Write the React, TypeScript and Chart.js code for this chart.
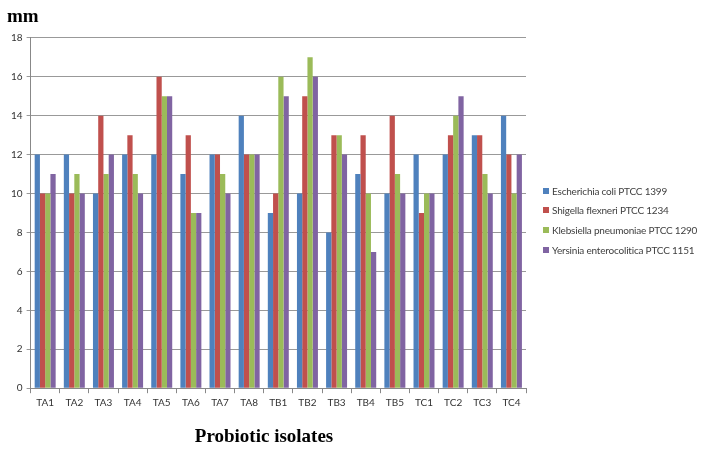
import React, { useEffect, useRef } from "react";
import { Chart, registerables } from "chart.js";

Chart.register(...registerables);

const categories = ["TA1","TA2","TA3","TA4","TA5","TA6","TA7","TA8","TB1","TB2","TB3","TB4","TB5","TC1","TC2","TC3","TC4"];
const seriesNames = [
  "Escherichia coli PTCC 1399",
  "Shigella flexneri PTCC 1234",
  "Klebsiella pneumoniae PTCC 1290",
  "Yersinia enterocolitica PTCC 1151",
];
const ecoli = [12,12,10,12,12,11,12,14,9,10,8,11,10,12,12,13,14];
const shigella = [10,10,14,13,16,13,12,12,10,15,13,13,14,9,13,13,12];
const klebsiella = [10,11,11,11,15,9,11,12,16,17,13,10,11,10,14,11,10];
const yersinia = [11,10,12,10,15,9,10,12,15,16,12,7,10,10,15,10,12];
const colors = ["#4F81BD", "#C0504D", "#9BBB59", "#8064A2"];
const yTicks = { min: 0, max: 18, step: 2 };

export default function App() {
  const ref = useRef<HTMLCanvasElement>(null);
  useEffect(() => {
    const values = [ecoli, shigella, klebsiella, yersinia];
    const chart = new Chart(ref.current!, {
      type: "bar",
      data: {
        labels: categories,
        datasets: values.map((v, i) => ({
          label: seriesNames[i],
          data: v,
          backgroundColor: colors[i],
          borderWidth: 0,
          barPercentage: 1,
          categoryPercentage: 0.72,
        })),
      },
      options: {
        animation: false,
        responsive: false,
        maintainAspectRatio: false,
        layout: { padding: { left: 7, right: 176, top: 6, bottom: 1 } },
        plugins: {
          tooltip: { enabled: false },
          title: {
            display: true,
            text: "mm",
            align: "start",
            color: "#000",
            font: { family: "Liberation Serif", size: 19, weight: "bold" },
            padding: { top: 0, bottom: 9 },
          },
          legend: { display: false },
        },
        scales: {
          x: {
            grid: { drawOnChartArea: false, drawTicks: true, tickLength: 5, color: "#888" },
            border: { color: "#888" },
            ticks: { color: "#333", font: { family: "Lato", size: 10 }, padding: 4, maxRotation: 0 },
            title: {
              display: true,
              text: "Probiotic isolates      ",
              color: "#000",
              font: { family: "Liberation Serif", size: 19, weight: "bold" },
              padding: { top: 12, bottom: 0 },
            },
          },
          y: {
            min: yTicks.min,
            max: yTicks.max,
            ticks: { stepSize: yTicks.step, color: "#333", font: { family: "Lato", size: 10 }, padding: 4 },
            grid: { color: "#999", tickLength: 4 },
            border: { color: "#888" },
          },
        },
      },
    });
    return () => chart.destroy();
  }, []);
  return (
    <div style={{ position: "fixed", left: 0, top: 0, width: 702, height: 449, background: "#fff" }}>
      <canvas ref={ref} width={702} height={449} />
      <div style={{ position: "absolute", left: 543, top: 181, fontFamily: "Lato", fontSize: 10, letterSpacing: -0.2, color: "#404040" }}>
        {seriesNames.map((name, i) => (
          <div key={name} style={{ height: 19.6, display: "flex", alignItems: "center", whiteSpace: "nowrap" }}>
            <span style={{ display: "inline-block", width: 6, height: 6, background: colors[i], marginRight: 3 }} />
            <span>{name}</span>
          </div>
        ))}
      </div>
    </div>
  );
}
